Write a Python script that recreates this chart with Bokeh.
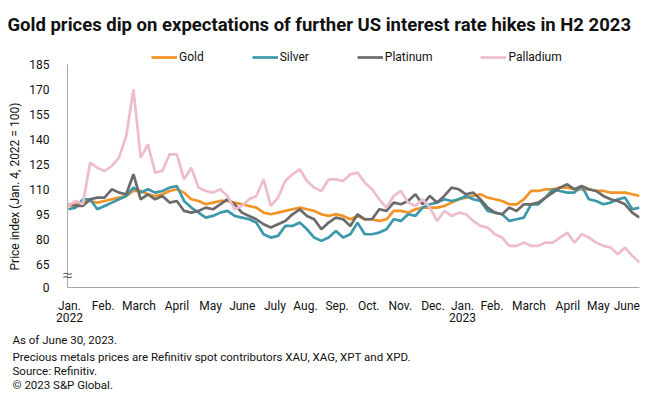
import pandas as pd
from bokeh.plotting import figure
from bokeh.models import Range1d, FixedTicker, Legend, LegendItem, Label, Title
from bokeh.embed import file_html
from bokeh.resources import INLINE

# ---------------- data (price index, Jan. 4, 2022 = 100) ----------------
start_date = "2022-01-04"
end_date = "2023-06-30"

gold = [100, 101, 102, 103, 102, 103, 104, 105, 106, 109,
        109, 107, 106, 107, 109, 110, 108, 104, 103, 101,
        102, 103, 103, 102, 101, 100, 99, 96, 95, 96,
        97, 98, 99, 98, 97, 95, 94, 95, 94, 92,
        94, 92, 92, 91, 92, 97, 97, 96, 98, 99,
        99, 99, 100, 102, 104, 105, 106, 107, 105, 104,
        103, 101, 101, 104, 109, 109, 110, 110, 111, 111,
        110, 110, 110, 109, 109, 108, 108, 108, 107, 106]

silver = [98, 99, 104, 104, 98, 100, 102, 104, 106, 111,
          108, 110, 108, 109, 111, 112, 103, 99, 96, 93,
          94, 96, 97, 94, 93, 92, 90, 83, 81, 82,
          88, 88, 90, 86, 81, 79, 81, 85, 81, 83,
          90, 83, 83, 84, 86, 92, 91, 95, 94, 99,
          101, 102, 104, 103, 104, 106, 104, 103, 97, 96,
          95, 91, 92, 93, 101, 101, 105, 110, 109, 108,
          108, 112, 104, 103, 101, 102, 104, 105, 98, 99]

platinum = [101, 100, 100, 104, 105, 105, 110, 108, 107, 119,
            104, 107, 104, 106, 102, 103, 97, 96, 97, 99,
            98, 101, 104, 101, 96, 94, 92, 89, 87, 89,
            91, 95, 98, 94, 92, 86, 90, 93, 92, 88,
            95, 92, 92, 98, 97, 102, 101, 103, 107, 101,
            106, 102, 106, 111, 110, 107, 108, 104, 99, 96,
            95, 99, 97, 101, 101, 102, 105, 108, 111, 113,
            110, 112, 110, 109, 106, 104, 103, 101, 96, 93]

palladium = [100, 103, 101, 126, 123, 121, 124, 129, 142, 170,
             129, 137, 120, 121, 131, 131, 116, 123, 111, 109,
             108, 110, 106, 98, 100, 104, 106, 116, 100, 105,
             115, 119, 122, 115, 111, 109, 116, 116, 115, 119,
             120, 114, 110, 104, 99, 106, 109, 102, 100, 104,
             99, 91, 97, 94, 96, 95, 91, 88, 87, 83,
             81, 76, 76, 78, 76, 76, 78, 78, 81, 84,
             78, 83, 81, 78, 76, 75, 71, 75, 70, 66]

series_names = ["Gold", "Silver", "Platinum", "Palladium"]
series_colors = ["#F39325", "#3C98AA", "#6B6B6B", "#EDBCCD"]

tick_dates = ["2022-01-05", "2022-02-06", "2022-03-12", "2022-04-17", "2022-05-19",
              "2022-06-18", "2022-07-19", "2022-08-17", "2022-09-16", "2022-10-16",
              "2022-11-15", "2022-12-16", "2023-01-13", "2023-02-10", "2023-03-17",
              "2023-04-23", "2023-05-22", "2023-06-18"]
tick_labels = ["Jan.\n2022", "Feb.", "March", "April", "May", "June", "July", "Aug.",
               "Sep.", "Oct.", "Nov.", "Dec.", "Jan.\n2023", "Feb.", "March", "April",
               "May", "June"]

y_ticks = [65, 80, 95, 110, 125, 140, 155, 170, 185]
y_floor = 51          # position of the broken-axis "0"
y_floor_label = "0"
y_break = 58.4        # where the axis-break mark sits

title_text = "Gold prices dip on expectations of further US interest rate hikes in H2 2023"
y_title = "Price index (Jan. 4, 2022 = 100)"
notes = ["As of June 30, 2023.",
         "Precious metals prices are Refinitiv spot contributors XAU, XAG, XPT and XPD.",
         "Source: Refinitiv.",
         "\u00a9 2023 S&P Global."]

# ---------------- build ----------------
FONT = "Roboto"
TXT = "#111111"
W, H = 652, 396
base = pd.Timestamp("2022-01-01")
dates = pd.date_range(start_date, end_date, periods=len(gold))
x = list((dates - base) / pd.Timedelta(days=1))
x_start = (pd.Timestamp(start_date) - base) / pd.Timedelta(days=1)
x_end = (pd.Timestamp(end_date) - base) / pd.Timedelta(days=1)
x0 = x_start - 0.9                      # where the value axis line sits
tick_x = [float((pd.Timestamp(d) - base) / pd.Timedelta(days=1)) for d in tick_dates]

p = figure(width=W, height=H, output_backend="svg", toolbar_location=None,
           x_range=Range1d(x_start - 6.54, x_end), y_range=Range1d(y_floor, 195.8),
           min_border_left=52, min_border_right=13, min_border_top=46,
           min_border_bottom=109)
p.outline_line_color = None
p.grid.visible = False
p.background_fill_color = "white"
p.border_fill_color = "white"

p.title.text = title_text
p.title.text_font = FONT
p.title.text_font_size = "18.5px"
p.title.text_font_style = "bold"
p.title.text_color = TXT
p.title.align = "left"
p.title.offset = -54
p.title.vertical_align = "top"
p.title.standoff = 18

axis_color = "#A6A6A6"
xa = p.xaxis[0]
xa.ticker = FixedTicker(ticks=tick_x)
xa.major_label_overrides = {t: l for t, l in zip(tick_x, tick_labels)}
xa.bounds = (x0, x_end)
xa.axis_line_color = axis_color
xa.major_tick_line_color = None
xa.minor_tick_line_color = None
xa.major_label_text_font = FONT
xa.major_label_text_font_size = "12px"
xa.major_label_text_color = TXT
xa.major_label_text_line_height = 0.92
xa.major_label_standoff = 5

ya = p.yaxis[0]
ya.ticker = FixedTicker(ticks=[y_floor] + y_ticks)
ya.major_label_overrides = {y_floor: y_floor_label}
ya.axis_line_color = None
ya.major_tick_line_color = None
ya.minor_tick_line_color = None
ya.major_label_text_font = FONT
ya.major_label_text_font_size = "12px"
ya.major_label_text_color = TXT
ya.major_label_standoff = 6

# visible value-axis line at the data origin
p.line([x0, x0], [y_floor, y_ticks[-1]], line_color=axis_color, line_width=1)

renderers = []
for vals, col in zip([gold, silver, platinum, palladium], series_colors):
    r = p.line(x, vals, line_color=col, line_width=2.7)
    renderers.append(r)

legend = Legend(items=[LegendItem(label=n, renderers=[r]) for n, r in zip(series_names, renderers)],
                orientation="horizontal", location=(90, 223), spacing=48,
                glyph_width=26, glyph_height=12, label_standoff=2,
                label_text_font=FONT, label_text_font_size="12px", label_text_color=TXT,
                padding=0, margin=0, border_line_alpha=0, background_fill_alpha=0)
p.add_layout(legend, "center")

# broken-axis mark
p.add_layout(Label(x=x0, y=y_break, text="\u2248", text_align="center",
                   text_baseline="middle", text_font_size="17px", text_color="#666666"))

# y-axis title in the left panel
p.add_layout(Title(text=y_title, align="left", offset=17, text_font=FONT,
                   text_font_size="12px", text_font_style="normal", text_color=TXT),
             "left")

# notes below the chart
for i, line in enumerate(notes):
    p.add_layout(Title(text=line, align="left", offset=-49, text_font=FONT,
                       text_font_size="11.5px", text_font_style="normal",
                       text_color=TXT, standoff=4 if i == 0 else -2), "below")

open("out.html", "w").write(file_html(p, INLINE))
